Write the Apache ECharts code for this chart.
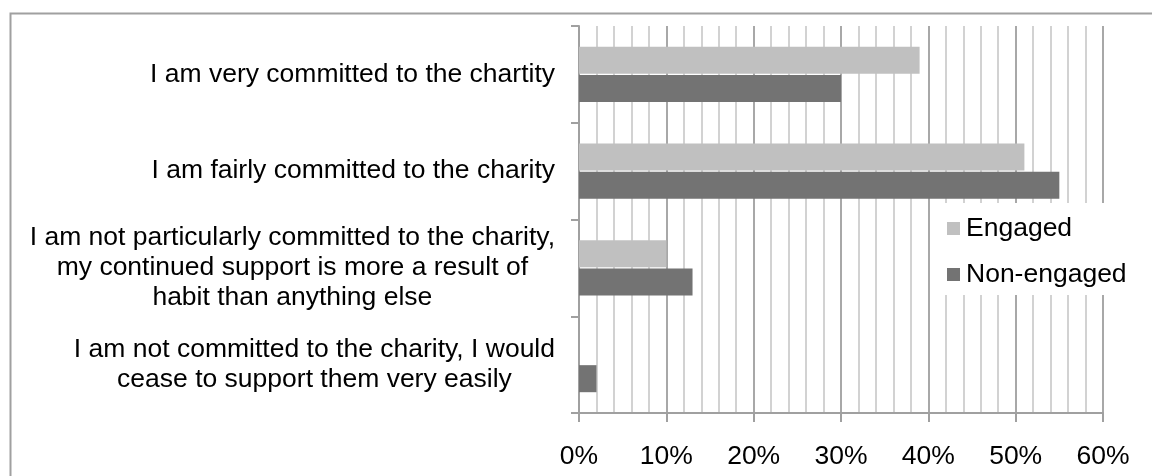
<!DOCTYPE html>
<html>
<head>
<meta charset="utf-8">
<script src="https://cdn.jsdelivr.net/npm/echarts@6/dist/echarts.min.js"></script>
<style>
  html, body { margin: 0; padding: 0; background: #fff; }
  #chart { width: 1152px; height: 476px; }
</style>
</head>
<body>
<div id="chart"></div>
<script>
// Survey statements, top to bottom (line breaks as shown beside the axis)
const categories = [
  'I am very committed to the chartity',
  'I am fairly committed to the charity',
  'I am not particularly committed to the charity,\nmy continued support is more a result of\nhabit than anything else',
  'I am not committed to the charity, I would\ncease to support them very easily'
];
// Share of respondents, in percent
const engaged = [39, 51, 10, 0];
const nonEngaged = [30, 55, 13, 2];
const seriesNames = ['Engaged', 'Non-engaged'];
const xMin = 0, xMax = 60, xStep = 10;

const FONT = "'Liberation Sans', Arial, sans-serif";
const FONT_SIZE = 26.5;
const AXIS_GREY = '#a0a0a0';

const chart = echarts.init(document.getElementById('chart'), null, { renderer: 'canvas' });

chart.setOption({
  backgroundColor: '#fff',
  animation: false,
  textStyle: { fontFamily: FONT, color: '#000' },
  graphic: [{
    type: 'rect',
    left: 8, top: 11,
    shape: { width: 1170, height: 490 },
    style: { fill: 'none', stroke: AXIS_GREY, lineWidth: 2 },
    z: -1
  }],
  grid: { left: 579, right: 49, top: 26, bottom: 63, containLabel: false },
  legend: {
    orient: 'vertical',
    left: 940, top: 203,
    backgroundColor: '#fff',
    padding: [12, 14, 7, 7],
    itemWidth: 13, itemHeight: 13,
    itemGap: 19,
    icon: 'rect',
    data: seriesNames,
    textStyle: { fontFamily: FONT, fontSize: FONT_SIZE, lineHeight: 26, color: '#000', padding: [0, 0, 0, 1] },
    z: 10
  },
  xAxis: {
    type: 'value',
    min: xMin, max: xMax, interval: xStep,
    axisLine: { show: true, lineStyle: { color: AXIS_GREY, width: 2 } },
    axisTick: { show: true, length: 9, lineStyle: { color: AXIS_GREY, width: 2 } },
    axisLabel: {
      formatter: '{value}%', margin: 30,
      fontFamily: FONT, fontSize: FONT_SIZE, color: '#000'
    },
    splitLine: { show: true, lineStyle: { color: '#a8a8a8', width: 2 } },
    minorTick: { show: false, splitNumber: 5 },
    minorSplitLine: { show: true, lineStyle: { color: '#d2d2d2', width: 2 } }
  },
  yAxis: {
    type: 'category',
    inverse: true,
    data: categories,
    axisLine: { show: true, lineStyle: { color: AXIS_GREY, width: 2 } },
    axisTick: { show: true, length: 8, inside: false, lineStyle: { color: AXIS_GREY, width: 2 } },
    axisLabel: {
      margin: 24,
      align: 'right',
      formatter: v => v.split('\n').map(s => '{c|' + s + '}').join('\n'),
      rich: {
        c: { fontFamily: FONT, fontSize: FONT_SIZE, lineHeight: 30, align: 'center', color: '#000' }
      }
    },
    splitLine: { show: false }
  },
  series: [
    {
      name: seriesNames[0], type: 'bar', data: engaged,
      barGap: '4%', barCategoryGap: '43%',
      itemStyle: { color: '#c0c0c0' }
    },
    {
      name: seriesNames[1], type: 'bar', data: nonEngaged,
      barGap: '4%', barCategoryGap: '43%',
      itemStyle: { color: '#737373' }
    }
  ]
});
</script>
</body>
</html>
